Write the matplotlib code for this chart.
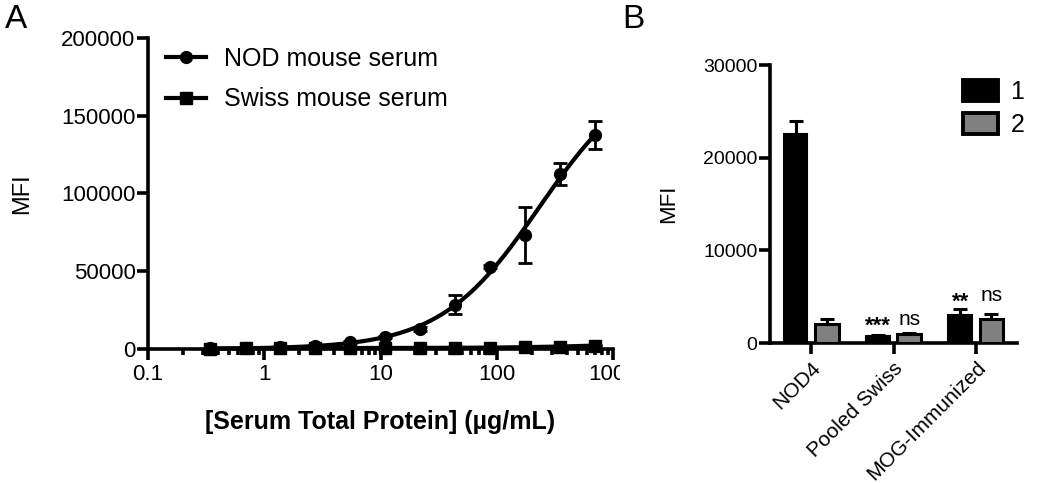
import numpy as np
import matplotlib
matplotlib.use("Agg")
import matplotlib.pyplot as plt
from matplotlib.transforms import Bbox, TransformedBbox
from matplotlib.lines import Line2D
from matplotlib.patches import Patch

plt.rcParams['font.family'] = ['Liberation Sans', 'DejaVu Sans']

# ---------------- Data: panel A ----------------
conc = [0.34, 0.69, 1.37, 2.75, 5.5, 11, 22, 44, 88, 176, 352, 703]
nod_mfi = [400, 800, 1300, 2100, 4300, 7700, 13000, 28500, 53000, 73500, 112500, 137500]
nod_err = [300, 300, 400, 500, 600, 900, 1200, 6000, 1000, 18000, 7000, 9000]
swiss_mfi = [300, 400, 500, 600, 600, 700, 700, 800, 900, 1200, 1600, 2200]
swiss_err = [200, 200, 200, 200, 200, 300, 200, 200, 300, 300, 400, 500]
a_xticks = [0.1, 1, 10, 100, 1000]
a_xticklabels = ["0.1", "1", "10", "100", "1000"]
a_yticks = [0, 50000, 100000, 150000, 200000]

# ---------------- Data: panel B ----------------
b_groups = ["NOD4", "Pooled Swiss", "MOG-Immunized"]
b_series1 = [22500, 730, 3000]
b_err1 = [1500, 100, 700]
b_series2 = [2100, 1000, 2550]
b_err2 = [500, 100, 550]
b_sig1 = ["", "***", "**"]
b_sig2 = ["", "ns", "ns"]
b_yticks = [0, 10000, 20000, 30000]

fig = plt.figure(figsize=(10.5, 4.83), dpi=100)

# ---------------- Panel A ----------------
axA = fig.add_axes([148/1050, 1-349/483, (613-148)/1050, (349-38)/483])
c = np.array(conc, float)
y = np.array(nod_mfi, float)

# least-squares fit of a Hill curve (bottom = 0) to NOD data
best = None
for top in np.linspace(120000, 320000, 81):
    for ec50 in np.logspace(1.5, 3.5, 121):
        for hill in np.linspace(0.6, 1.6, 51):
            pred = top / (1 + (ec50 / c) ** hill)
            sse = np.sum((pred - y) ** 2)
            if best is None or sse < best[0]:
                best = (sse, top, ec50, hill)
_, top, ec50, hill = best
xf = np.logspace(np.log10(c.min()), np.log10(c.max()), 300)
axA.plot(xf, top / (1 + (ec50 / xf) ** hill), color='black', lw=3, zorder=4, clip_on=False)

axA.errorbar(conc, nod_mfi, yerr=nod_err, fmt='o', color='black', ms=8.5,
             capsize=5, elinewidth=2, capthick=2, zorder=5, clip_on=False)
axA.errorbar(conc, swiss_mfi, yerr=swiss_err, fmt='s', ls='-', color='black', ms=8,
             lw=3, capsize=5, elinewidth=2, capthick=2, zorder=5, clip_on=False)

axA.set_xscale('log')
axA.set_xlim(0.1, 1000)
axA.set_ylim(0, 200000)
axA.set_xticks(a_xticks)
axA.set_xticklabels(a_xticklabels)
axA.set_yticks(a_yticks)
axA.set_yticklabels([str(v) for v in a_yticks])
for s in ['top', 'right']:
    axA.spines[s].set_visible(False)
for s in ['left', 'bottom']:
    axA.spines[s].set_linewidth(2.6)
axA.tick_params(which='major', length=8, width=2.6, labelsize=16, pad=3)
axA.tick_params(which='minor', length=4, width=2.6)
axA.tick_params(axis='y', pad=1)
axA.set_ylabel("MFI", fontsize=17, labelpad=20)
axA.set_xlabel("[Serum Total Protein] (\u00b5g/mL)", fontsize=18, fontweight='bold', labelpad=18)

h1 = Line2D([], [], color='black', lw=3, marker='o', ms=8.5)
h2 = Line2D([], [], color='black', lw=3, marker='s', ms=8)
fig.legend([h1, h2], ["NOD mouse serum", "Swiss mouse serum"], loc='upper left',
           bbox_to_anchor=(166/1050, 1-47/483), frameon=False, fontsize=18,
           handlelength=1.6, handletextpad=0.7, labelspacing=0.65, borderpad=0, borderaxespad=0)

clipbox = TransformedBbox(Bbox([[0, 0], [620/1050, 1]]), fig.transFigure)
for lab in axA.get_xticklabels():
    lab.set_clip_on(True)
    lab.set_clip_box(clipbox)

# ---------------- Panel B ----------------
axB = fig.add_axes([770/1050, 1-343/483, (1017-770)/1050, (343-65)/483])
xpos = np.arange(len(b_groups))
w = 0.29
off = 0.19
axB.bar(xpos - off, b_series1, w, color='black', edgecolor='black', lw=1.5, zorder=3,
        yerr=[[0]*3, b_err1], error_kw=dict(ecolor='black', elinewidth=2.2, capsize=5, capthick=2.2))
axB.bar(xpos + off, b_series2, w, color='#808080', edgecolor='black', lw=2.2, zorder=3,
        yerr=[[0]*3, b_err2], error_kw=dict(ecolor='black', elinewidth=2.2, capsize=5, capthick=2.2))
for i in range(len(b_groups)):
    if not b_sig1[i]:
        continue
    ymax = max(b_series1[i] + b_err1[i], b_series2[i] + b_err2[i])
    axB.text(xpos[i] - off, ymax + 100, b_sig1[i], ha='center', va='baseline',
             fontsize=16, fontweight='bold')
    axB.text(xpos[i] + off, ymax + 850, b_sig2[i], ha='center', va='baseline', fontsize=15)

axB.set_xlim(-0.5, 2.5)
axB.set_ylim(0, 30000)
axB.set_yticks(b_yticks)
axB.set_yticklabels([str(v) for v in b_yticks])
axB.set_xticks(xpos)
axB.set_xticklabels(b_groups, rotation=45, ha='right', rotation_mode='anchor', fontsize=15)
for s in ['top', 'right']:
    axB.spines[s].set_visible(False)
for s in ['left', 'bottom']:
    axB.spines[s].set_linewidth(2.6)
axB.tick_params(axis='y', length=8, width=2.6, labelsize=14, pad=1)
axB.tick_params(axis='x', length=8, width=2.6, pad=3)
axB.set_ylabel("MFI", fontsize=16, labelpad=17)

p1 = Patch(facecolor='black', edgecolor='black', lw=2.8)
p2 = Patch(facecolor='#808080', edgecolor='black', lw=2.8)
fig.legend([p1, p2], ["1", "2"], loc='upper left', bbox_to_anchor=(963/1050, 1-80/483),
           frameon=False, fontsize=18, handlelength=1.4, handleheight=0.9,
           handletextpad=0.5, labelspacing=0.35, borderpad=0, borderaxespad=0)

fig.text(5/1050, 1-4/483, "A", fontsize=24, va='top', ha='left')
fig.text(622/1050, 1-4/483, "B", fontsize=24, va='top', ha='left')

fig.savefig("out.png", dpi=100)
